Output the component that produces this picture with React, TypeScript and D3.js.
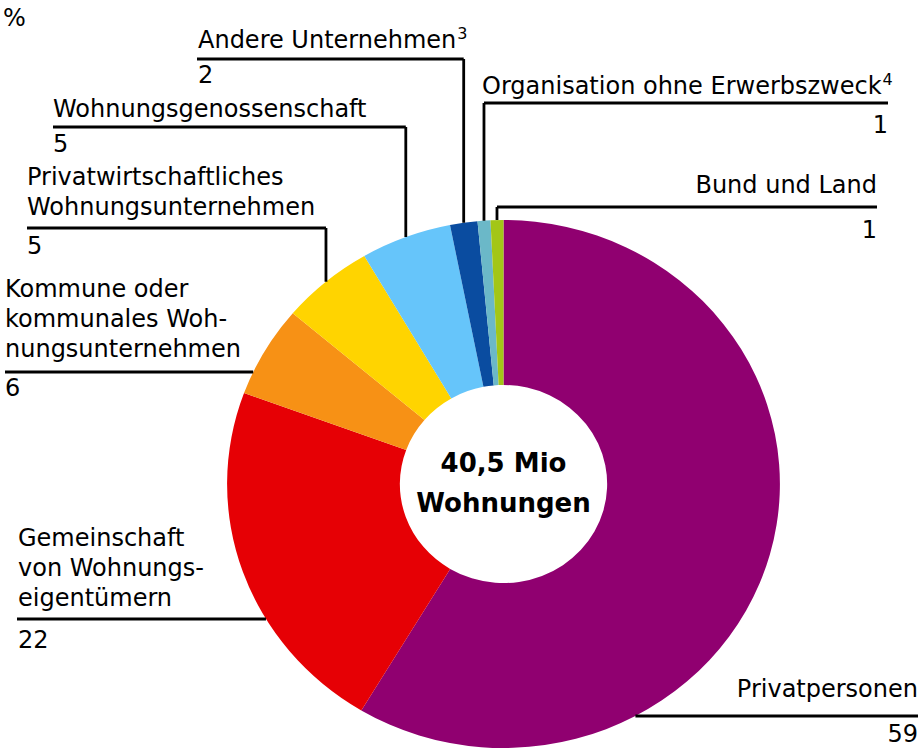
import React from "react";
import * as d3 from "d3";

const categories = [
  "Privatpersonen",
  "Gemeinschaft von Wohnungseigentümern",
  "Kommune oder kommunales Wohnungsunternehmen",
  "Privatwirtschaftliches Wohnungsunternehmen",
  "Wohnungsgenossenschaft",
  "Andere Unternehmen",
  "Organisation ohne Erwerbszweck",
  "Bund und Land",
];
const values = [58.6, 22.0, 5.6, 5.4, 5.3, 1.6, 0.75, 0.75];
const shownValues = ["59", "22", "6", "5", "5", "2", "1", "1"];
const colors = ["#900070", "#E60005", "#F79115", "#FFD400", "#66C5FA", "#0A4CA0", "#6BB8C8", "#A3C617"];
const labelLines: string[][] = [
  ["Privatpersonen"],
  ["Gemeinschaft", "von Wohnungs-", "eigentümern"],
  ["Kommune oder", "kommunales Woh-", "nungsunternehmen"],
  ["Privatwirtschaftliches", "Wohnungsunternehmen"],
  ["Wohnungsgenossenschaft"],
  ["Andere Unternehmen"],
  ["Organisation ohne Erwerbszweck"],
  ["Bund und Land"],
];
const footnotes = ["", "", "", "", "", "3", "4", ""];
const unitLabel = "%";
const centerLines = ["40,5 Mio", "Wohnungen"];

// layout
const CX = 503.5;
const CY = 484;
const R_OUT = 264;
const R_IN = 99;
const SX = 1.047;
const FONT = "'DejaVu Sans', sans-serif";
const FS = 24;
const LH = 30;

type Layout = {
  kind: "left" | "right" | "vert";
  textX: number;
  anchor: "start" | "end";
  firstBaseline: number;
  lineY: number;
  lineX0?: number;
  lineX1?: number;
  valueBaseline: number;
};

const layouts: Layout[] = [
  { kind: "right", textX: 918, anchor: "end", firstBaseline: 697, lineY: 716, lineX1: 918, valueBaseline: 742 },
  { kind: "left", textX: 18, anchor: "start", firstBaseline: 546, lineY: 619, lineX0: 17, valueBaseline: 648 },
  { kind: "left", textX: 5, anchor: "start", firstBaseline: 297, lineY: 372, lineX0: 5, valueBaseline: 396 },
  { kind: "vert", textX: 27, anchor: "start", firstBaseline: 185, lineY: 228, lineX0: 27, valueBaseline: 254 },
  { kind: "vert", textX: 53, anchor: "start", firstBaseline: 117, lineY: 127, lineX0: 53, valueBaseline: 152 },
  { kind: "vert", textX: 198, anchor: "start", firstBaseline: 48, lineY: 59, lineX0: 197, valueBaseline: 83 },
  { kind: "vert", textX: 482, anchor: "start", firstBaseline: 94, lineY: 103, lineX1: 888, valueBaseline: 133 },
  { kind: "vert", textX: 877, anchor: "end", firstBaseline: 193, lineY: 207, lineX1: 877, valueBaseline: 238 },
];

export default function App() {
  const pie = d3.pie<number>().sort(null).value((d) => d).startAngle(0).endAngle(2 * Math.PI);
  const arcs = pie(values);
  const arc = d3.arc<d3.PieArcDatum<number>>().innerRadius(R_IN).outerRadius(R_OUT);

  const edgeX = (y: number, side: number) => {
    const dy = (y - CY) / R_OUT;
    return CX + side * SX * R_OUT * Math.sqrt(Math.max(0, 1 - dy * dy));
  };

  const leaders = arcs.map((a, i) => {
    const L = layouts[i];
    if (L.kind === "vert") {
      const mid = (a.startAngle + a.endAngle) / 2;
      const px = CX + SX * R_OUT * Math.sin(mid);
      const py = CY - R_OUT * Math.cos(mid);
      const hx0 = L.lineX0 !== undefined ? L.lineX0 : px;
      const hx1 = L.lineX1 !== undefined ? L.lineX1 : px;
      return `M${hx0},${L.lineY}H${hx1}M${px},${L.lineY}V${py}`;
    }
    if (L.kind === "left") {
      return `M${L.lineX0},${L.lineY}H${edgeX(L.lineY, -1)}`;
    }
    return `M${edgeX(L.lineY, 1)},${L.lineY}H${L.lineX1}`;
  });

  return (
    <svg
      width={922}
      height={753}
      style={{ position: "absolute", left: 0, top: 0, background: "#fff" }}
      fontFamily={FONT}
    >
      <rect width={922} height={753} fill="#fff" />
      <text x={3} y={26} fontSize={24} fill="#000">{unitLabel}</text>
      <g transform={`translate(${CX},${CY}) scale(${SX},1)`}>
        {arcs.map((a, i) => (
          <path key={i} d={arc(a) || ""} fill={colors[i]} />
        ))}
      </g>
      {leaders.map((d, i) => (
        <path key={i} d={d} stroke="#000" strokeWidth={2.8} fill="none" />
      ))}
      {layouts.map((L, i) => (
        <g key={i} fontSize={FS} fill="#000">
          {labelLines[i].map((ln, j) => (
            <text key={j} x={L.textX} y={L.firstBaseline + j * LH} textAnchor={L.anchor}>
              {ln}
              {footnotes[i] && j === labelLines[i].length - 1 ? (
                <tspan fontSize={16} dx={1} dy={-9}>{footnotes[i]}</tspan>
              ) : null}
            </text>
          ))}
          <text
            x={L.kind === "vert" && L.lineX1 !== undefined ? L.lineX1 : L.textX}
            y={L.valueBaseline}
            textAnchor={L.kind === "vert" && L.lineX1 !== undefined ? "end" : L.anchor}
          >
            {shownValues[i]}
          </text>
        </g>
      ))}
      <g fontWeight="bold" fontSize={26} textAnchor="middle" fill="#000">
        <text x={CX} y={472}>{centerLines[0]}</text>
        <text x={CX} y={512}>{centerLines[1]}</text>
      </g>
    </svg>
  );
}
